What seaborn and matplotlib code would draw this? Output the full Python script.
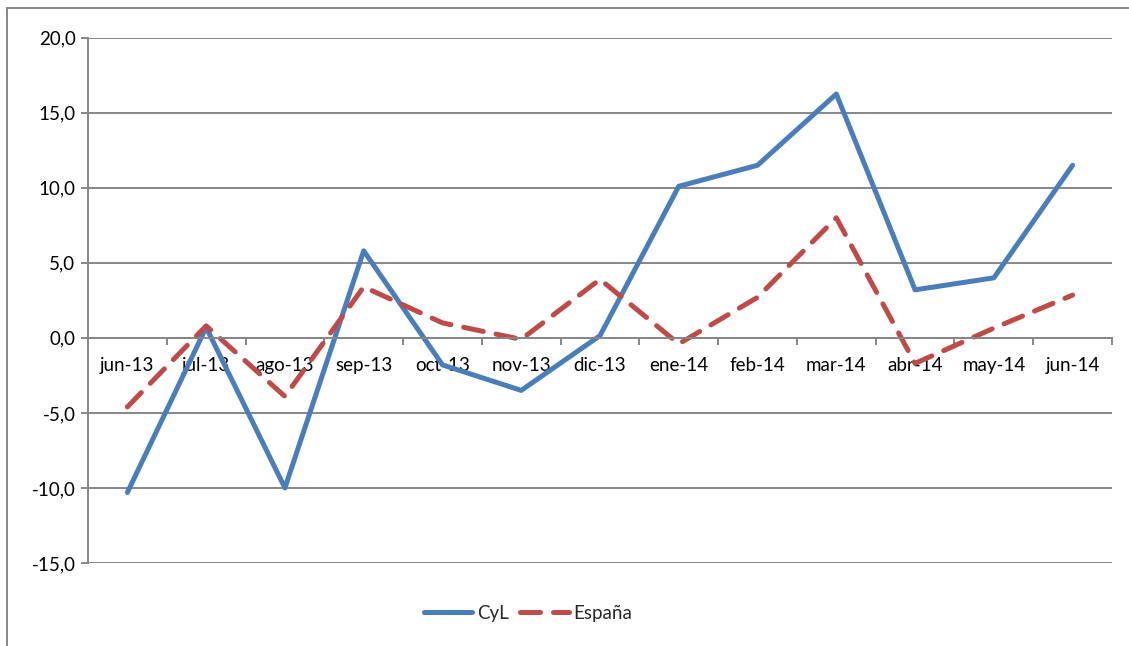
import numpy as np
import pandas as pd
import matplotlib.pyplot as plt
import seaborn as sns
from matplotlib.lines import Line2D
from matplotlib.ticker import FuncFormatter, FixedLocator

# Datos (variacion, %)
meses = ['jun-13', 'jul-13', 'ago-13', 'sep-13', 'oct-13', 'nov-13', 'dic-13',
         'ene-14', 'feb-14', 'mar-14', 'abr-14', 'may-14', 'jun-14']
cyl = [-10.3, 0.7, -10.0, 5.8, -1.8, -3.5, 0.15, 10.1, 11.5, 16.25, 3.2, 4.0, 11.5]
espana = [-4.6, 0.8, -3.9, 3.4, 1.0, -0.1, 3.9, -0.4, 2.7, 8.0, -1.7, 0.65, 2.85]

pos = np.arange(len(meses))
df = pd.DataFrame({'pos': np.concatenate([pos, pos]),
                   'valor': cyl + espana,
                   'serie': ['CyL'] * len(meses) + ['España'] * len(meses)})

sns.set_theme(style='white')
plt.rcParams['font.family'] = ['Lato', 'DejaVu Sans']

fig = plt.figure(figsize=(11.29, 6.46), dpi=100)
ax = fig.add_axes([88 / 1129, 1 - 563 / 646, (1112 - 88) / 1129, (563 - 37.7) / 646])

gris = '#868686'
fs = 13.5
sns.lineplot(data=df, x='pos', y='valor', hue='serie', style='serie',
             palette={'CyL': '#4A7EBB', 'España': '#BE4B48'},
             dashes={'CyL': '', 'España': (4, 2.6)},
             linewidth=3.6, ax=ax, legend=False, sort=False)
for ln in ax.get_lines():
    ln.set_dash_capstyle('round')
    ln.set_solid_capstyle('round')

ax.set_xlim(-0.5, len(meses) - 0.5)
ax.set_ylim(-15, 20)
ax.set_yticks(np.arange(-15, 21, 5))
ax.yaxis.set_major_formatter(FuncFormatter(lambda v, p: f'{v:.1f}'.replace('.', ',')))
ax.grid(axis='y', color=gris, linewidth=1.4)
ax.set_axisbelow(True)

# eje de categorias sobre el cero
ax.spines['bottom'].set_position(('data', 0))
ax.spines['bottom'].set_color(gris)
ax.spines['bottom'].set_linewidth(1.4)
ax.spines['left'].set_color(gris)
ax.spines['left'].set_linewidth(1.4)
ax.spines['top'].set_visible(False)
ax.spines['right'].set_visible(False)

ax.xaxis.set_major_locator(FixedLocator(np.arange(len(meses) + 1) - 0.5))
ax.xaxis.set_minor_locator(FixedLocator(pos))
ax.set_xticklabels([], minor=False)
ax.set_xticklabels(meses, minor=True)
ax.tick_params(axis='x', which='major', direction='out', length=5, width=1.4,
               color=gris, bottom=True)
ax.tick_params(axis='x', which='minor', length=0, pad=14, labelsize=fs,
               labelcolor='black', bottom=True)
ax.tick_params(axis='y', direction='out', length=5, width=1.4, color=gris,
               left=True, labelsize=fs, labelcolor='black', pad=4)
ax.set_xlabel('')
ax.set_ylabel('')

handles = [Line2D([], [], color='#4A7EBB', lw=3.6, solid_capstyle='round'),
           Line2D([], [], color='#BE4B48', lw=3.6, dashes=(4, 2.6),
                  dash_capstyle='round')]
fig.legend(handles, ['CyL', 'España'], loc='center',
           bbox_to_anchor=(528 / 1129, 1 - 613 / 646), ncol=2, frameon=False,
           fontsize=fs, handlelength=2.6, columnspacing=0.6, handletextpad=0.25,
           borderpad=0, borderaxespad=0)

# borde del area del grafico
fig.add_artist(Line2D([7 / 1129, 7 / 1129], [0, 1 - 8 / 646], color=gris, lw=1.4))
fig.add_artist(Line2D([7 / 1129, 1], [1 - 8 / 646, 1 - 8 / 646], color=gris, lw=1.4))

fig.savefig('out.png', dpi=100)
